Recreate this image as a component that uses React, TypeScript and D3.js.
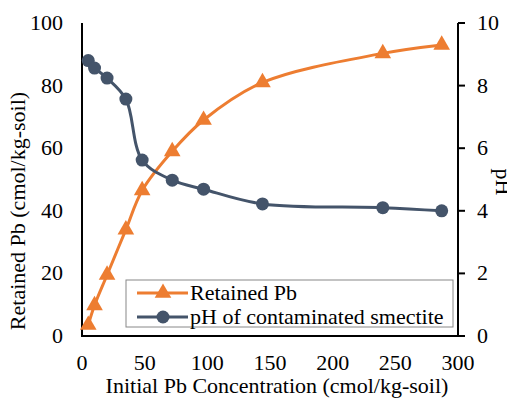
import React from 'react';
import * as d3 from 'd3';

// Initial Pb concentration (cmol/kg-soil)
const initialPb = [5, 10, 20, 35, 48, 72, 97, 144, 240, 287];
// Retained Pb (cmol/kg-soil)
const retainedPb = [3.5, 9.8, 19.5, 34, 46.5, 59, 69, 81, 90.3, 93];
// pH of contaminated smectite
const phValues = [8.8, 8.56, 8.24, 7.57, 5.62, 4.98, 4.69, 4.22, 4.1, 4.0];

const xTicks = [0, 50, 100, 150, 200, 250, 300];
const yTicks = [0, 20, 40, 60, 80, 100];
const phTicks = [0, 2, 4, 6, 8, 10];

const ORANGE = '#ED7D31';
const SLATE = '#44546A';
const FONT = 'Liberation Serif';

const width = 515;
const height = 399;
const margin = { top: 23, right: 57, bottom: 63, left: 82 };
const innerWidth = width - margin.left - margin.right;
const innerHeight = height - margin.top - margin.bottom;

const x = d3.scaleLinear().domain([0, 300]).range([0, innerWidth]);
const y = d3.scaleLinear().domain([0, 100]).range([innerHeight, 0]);
const yPh = d3.scaleLinear().domain([0, 10]).range([innerHeight, 0]);

const retainedLine = d3.line<number>()
  .x((_, i) => x(initialPb[i]))
  .y(d => y(d))
  .curve(d3.curveCatmullRom);
const phLine = d3.line<number>()
  .x((_, i) => x(initialPb[i]))
  .y(d => yPh(d))
  .curve(d3.curveCatmullRom);

const tri = d3.symbol().type(d3.symbolTriangle).size(120)() || '';

const legendItems = [
  { label: 'Retained Pb', color: ORANGE, kind: 'tri' },
  { label: 'pH of contaminated smectite', color: SLATE, kind: 'circle' },
];

const App: React.FC = () => {
  // the body keeps its 8px margin; pull the drawing back by that much
  return (
    <svg width={width} height={height} overflow="visible">
      <g transform="translate(-8,-8)">
        <g transform={`translate(${margin.left},${margin.top})`}>
          {/* x tick labels */}
          {xTicks.map(t => (
            <text key={`x${t}`} x={x(t)} y={innerHeight + 34} textAnchor="middle"
              fontFamily={FONT} fontSize={22}>{t}</text>
          ))}
          {/* left tick labels */}
          {yTicks.map(t => (
            <text key={`y${t}`} x={-19} y={y(t) + 7} textAnchor="end"
              fontFamily={FONT} fontSize={22}>{t}</text>
          ))}
          {/* right ticks */}
          {phTicks.map(t => (
            <g key={`p${t}`} transform={`translate(${innerWidth},${yPh(t)})`}>
              <line x1={0} x2={7} stroke="#000" strokeWidth={2} />
              <text x={19} y={7} fontFamily={FONT} fontSize={22}>{t}</text>
            </g>
          ))}

          {/* axis lines */}
          <line x1={0} x2={0} y1={0} y2={innerHeight + 1} stroke="#000" strokeWidth={2} />
          <line x1={innerWidth} x2={innerWidth} y1={0} y2={innerHeight + 1} stroke="#000" strokeWidth={2} />
          <line x1={-1} x2={innerWidth + 1} y1={innerHeight} y2={innerHeight} stroke="#000" strokeWidth={2} />

          {/* series */}
          <path d={retainedLine(retainedPb) || ''} fill="none" stroke={ORANGE} strokeWidth={3} />
          <path d={phLine(phValues) || ''} fill="none" stroke={SLATE} strokeWidth={3} />
          {retainedPb.map((d, i) => (
            <path key={`t${i}`} d={tri} transform={`translate(${x(initialPb[i])},${y(d)})`} fill={ORANGE} />
          ))}
          {phValues.map((d, i) => (
            <circle key={`c${i}`} cx={x(initialPb[i])} cy={yPh(d)} r={6.5} fill={SLATE} />
          ))}
        </g>

        {/* axis titles */}
        <text x={277} y={393} textAnchor="middle" fontFamily={FONT} fontSize={22}>
          Initial Pb Concentration (cmol/kg-soil)
        </text>
        <text transform="translate(25,211) rotate(-90)" textAnchor="middle" fontFamily={FONT} fontSize={22}>
          Retained Pb (cmol/kg-soil)
        </text>
        <text transform="translate(496,182) rotate(90)" textAnchor="middle" fontFamily={FONT} fontSize={22}>
          pH
        </text>

        {/* legend */}
        <g transform="translate(126,280)">
          <rect width={327} height={47} fill="#fff" stroke="#888" strokeWidth={1} />
          {legendItems.map((it, i) => {
            const cy = 13 + i * 24;
            return (
              <g key={it.label}>
                <line x1={11} x2={62} y1={cy} y2={cy} stroke={it.color} strokeWidth={3} />
                {it.kind === 'tri'
                  ? <path d={tri} transform={`translate(37,${cy})`} fill={it.color} />
                  : <circle cx={37} cy={cy} r={6.5} fill={it.color} />}
                <text x={64} y={cy + 7} fontFamily={FONT} fontSize={22}>{it.label}</text>
              </g>
            );
          })}
        </g>
      </g>
    </svg>
  );
};

export default App;
